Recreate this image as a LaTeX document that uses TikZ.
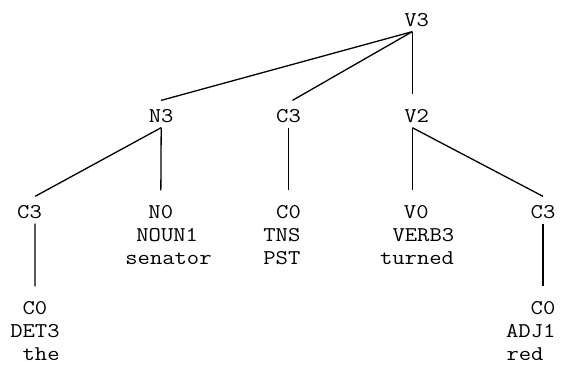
\documentclass[tikz,border=0pt]{standalone}
\usepackage{fontspec}
\newfontfamily\treefont{Latin Modern Mono}[FakeStretch=1.14]
\begin{document}
\begin{tikzpicture}[x=1pt,y=-1pt,line width=1.3pt,
    tag/.style={font=\treefont\fontsize{21}{23}\selectfont,inner sep=0pt,
                text height=21pt,text depth=5pt,anchor=base},
    word/.style={font=\treefont\fontsize{21}{23}\selectfont,inner sep=0pt,
                 text depth=0pt,anchor=base},
    down/.style={shorten >=6pt}]
  \useasboundingbox (0,0) rectangle (570,365);

  \node[tag] (v3) at (416.7,26) {V3};

  \node[tag] (n3) at (161.2,122) {N3};
  \node[tag] (c3) at (288.5,122) {C3};
  \node[tag] (v2) at (416.7,122) {V2};

  \node[tag] (c3a) at (29.5,218) {C3};
  \node[tag] (n0) at (160.8,218) {N0};
  \node[word] (noun) at (167.2,241) {NOUN1};
  \node[word] (senator) at (168.5,264) {senator};
  \node[tag] (c0) at (288.5,218) {C0};
  \node[word] (tns) at (281.9,241) {TNS};
  \node[word] (pst) at (281.9,264) {PST};
  \node[tag] (v0) at (416.3,218) {V0};
  \node[word] (verb) at (423.4,241) {VERB3};
  \node[word] (turned) at (417,264) {turned};
  \node[tag] (c3b) at (543,218) {C3};

  \node[tag] (c0a) at (35,314) {C0};
  \node[word] (det) at (35,337) {DET3};
  \node[word] (the) at (41.1,360) {the};
  \node[tag] (c0b) at (543,314) {C0};
  \node[word] (adj) at (530.8,337) {ADJ1};
  \node[word] (red) at (525,360) {red};

  \path ([xshift=-4.4pt]v3.south) edge (n3.north)
                                  edge ([xshift=4pt]c3.north)
                                  edge[down] ([xshift=-4.4pt]v2.north)
        (n3.south) edge ([xshift=5.6pt]c3a.north)
                   edge[down] (n0.north)
        (c3.south) edge[down] (c0.north)
        ([xshift=-4.4pt]v2.south) edge[down] ([xshift=-4pt]v0.north)
                                  edge (c3b.north)
        ([xshift=5.6pt]c3a.south) edge[down] (c0a.north)
        (c3b.south) edge[down] (c0b.north);
\end{tikzpicture}
\end{document}
